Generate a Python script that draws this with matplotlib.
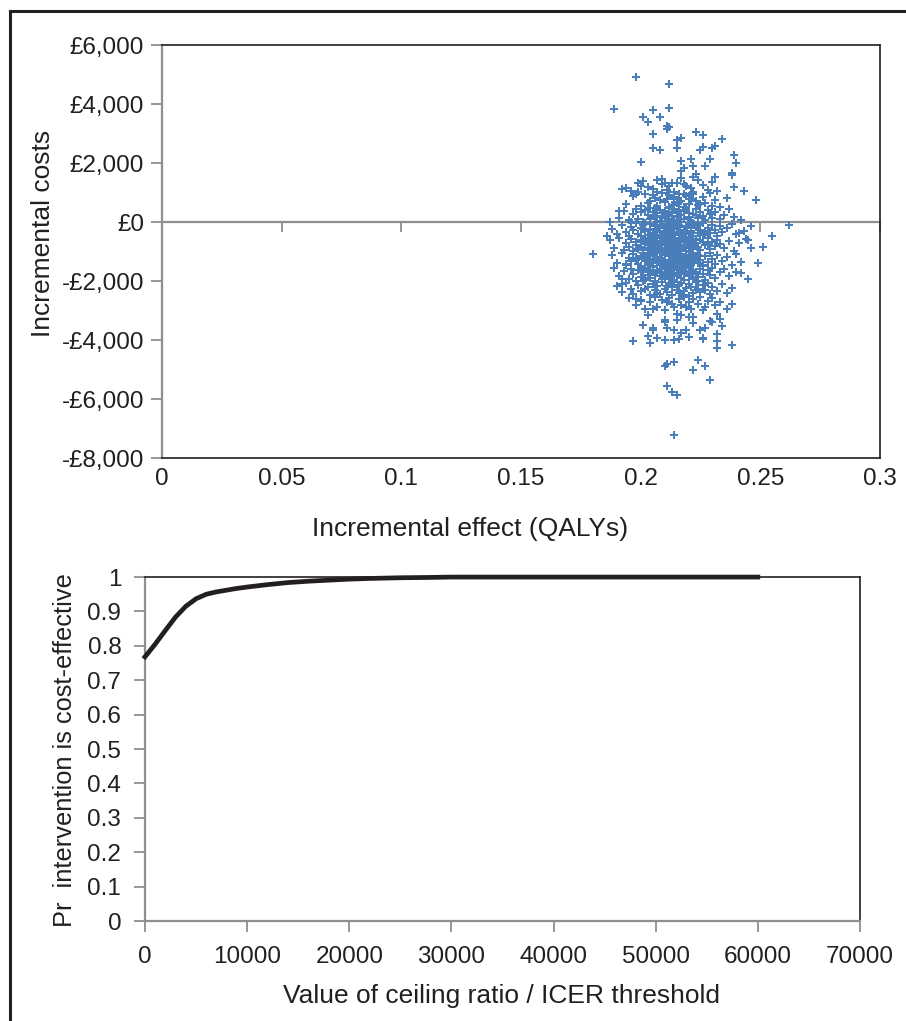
import numpy as np
import matplotlib.pyplot as plt
from matplotlib.lines import Line2D
from matplotlib.ticker import FuncFormatter

plt.rcParams['font.family'] = ['Liberation Sans', 'DejaVu Sans']

# --- cost-effectiveness plane: (incremental QALYs, incremental cost) ---
outliers = [
    (0.198, 4905), (0.212, 4680), (0.189, 3820), (0.205, 3800), (0.212, 3850), (0.201, 3550),
    (0.203, 3400), (0.208, 3570), (0.211, 3250), (0.212, 3210), (0.211, 3150), (0.205, 2980),
    (0.223, 3040), (0.226, 2950), (0.215, 2780), (0.217, 2840), (0.234, 2800), (0.205, 2500),
    (0.208, 2460), (0.215, 2500), (0.225, 2460), (0.226, 2550), (0.230, 2500), (0.231, 2580),
    (0.239, 2270), (0.240, 2020), (0.200, 2040), (0.217, 2070), (0.221, 2140), (0.229, 2140),
    (0.222, 1910), (0.227, 1900), (0.217, 1730), (0.218, 1820), (0.223, 1620), (0.222, 1520),
    (0.231, 1520), (0.238, 1650), (0.238, 1590), (0.207, 1420), (0.210, 1330), (0.213, 1310),
    (0.199, 1310), (0.200, 1220), (0.192, 1120), (0.194, 1150), (0.239, 1200), (0.243, 1050),
    (0.248, 750), (0.191, 380), (0.187, -10), (0.186, -475), (0.180, -1085), (0.262, -90),
    (0.255, -465), (0.246, -125), (0.251, -840), (0.246, -870), (0.245, -590), (0.241, -380),
    (0.249, -1400), (0.242, -1720), (0.245, -1930), (0.238, -2780), (0.236, -2950), (0.232, -3100),
    (0.233, -3290), (0.234, -3530), (0.232, -3800), (0.232, -4020), (0.232, -4250), (0.238, -4160),
    (0.229, -3345), (0.230, -3380), (0.227, -3570), (0.225, -3660), (0.226, -3970), (0.226, -3940),
    (0.220, -3890), (0.219, -3660), (0.217, -3770), (0.216, -3970), (0.214, -4000), (0.210, -3980),
    (0.207, -3940), (0.214, -3640), (0.211, -3570), (0.205, -3600), (0.205, -3660), (0.203, -3860),
    (0.204, -4110), (0.197, -4020), (0.201, -3490), (0.203, -3150), (0.205, -2950), (0.210, -3300),
    (0.210, -3380), (0.215, -3300), (0.215, -3100), (0.217, -3130), (0.220, -3210), (0.222, -3210),
    (0.222, -3400), (0.210, -4870), (0.211, -4790), (0.214, -4740), (0.224, -4680), (0.227, -4880),
    (0.222, -5020), (0.229, -5330), (0.211, -5550), (0.213, -5770), (0.215, -5840), (0.214, -7200),
    (0.200, -2680), (0.198, -2590), (0.192, -1910), (0.192, -2080), (0.194, -1420),
]

band_a = [
    (0.196, 1050), (0.201, 1380), (0.205, 1120), (0.209, 1460), (0.212, 1210), (0.214, 1030),
    (0.218, 1300), (0.221, 1150), (0.224, 1420), (0.228, 1090), (0.207, 1010), (0.215, 1340),
    (0.219, 1240), (0.203, 1180), (0.226, 1270), (0.211, 1100), (0.232, 1060), (0.199, 1020),
    (0.217, 1480), (0.222, 1010), (0.209, 1290), (0.230, 1360),
]

band_b = [
    (0.194, 620), (0.197, 880), (0.200, 540), (0.202, 940), (0.204, 710), (0.206, 830),
    (0.207, 560), (0.209, 990), (0.210, 680), (0.211, 770), (0.212, 910), (0.213, 590),
    (0.214, 850), (0.215, 640), (0.216, 960), (0.217, 720), (0.218, 530), (0.219, 880),
    (0.220, 610), (0.221, 790), (0.222, 940), (0.223, 700), (0.224, 570), (0.226, 860),
    (0.227, 650), (0.229, 980), (0.231, 740), (0.233, 520), (0.236, 810), (0.198, 960),
    (0.203, 660), (0.208, 750), (0.212, 520), (0.216, 690), (0.220, 870), (0.225, 600),
    (0.205, 920), (0.214, 780), (0.218, 950), (0.230, 560),
]

band_c = [
    (0.191, 150), (0.193, 380), (0.195, 60), (0.197, 270), (0.198, 460), (0.199, 120),
    (0.200, 330), (0.201, 20), (0.202, 410), (0.203, 240), (0.204, 90), (0.205, 360),
    (0.206, 180), (0.206, 470), (0.207, 300), (0.208, 50), (0.208, 420), (0.209, 210),
    (0.210, 140), (0.210, 390), (0.211, 30), (0.211, 270), (0.212, 480), (0.212, 110),
    (0.213, 350), (0.213, 200), (0.214, 440), (0.214, 70), (0.215, 310), (0.215, 160),
    (0.216, 410), (0.216, 10), (0.217, 250), (0.218, 370), (0.218, 90), (0.219, 460),
    (0.220, 190), (0.220, 320), (0.221, 40), (0.222, 280), (0.223, 430), (0.224, 130),
    (0.225, 360), (0.226, 220), (0.227, 70), (0.228, 410), (0.229, 260), (0.230, 150),
    (0.231, 330), (0.233, 90), (0.235, 240), (0.237, 450), (0.239, 180), (0.196, 20),
    (0.204, 480), (0.210, 350), (0.217, 120), (0.223, 230), (0.228, 400), (0.242, 60),
]

band_d = [
    (0.188, -220), (0.190, -410), (0.192, -90), (0.194, -330), (0.195, -470), (0.196, -150),
    (0.197, -280), (0.198, -40), (0.199, -390), (0.200, -190), (0.200, -460), (0.201, -110),
    (0.202, -300), (0.202, -20), (0.203, -420), (0.204, -240), (0.204, -70), (0.205, -360),
    (0.205, -490), (0.206, -130), (0.206, -270), (0.207, -10), (0.207, -440), (0.208, -200),
    (0.208, -340), (0.209, -80), (0.209, -480), (0.210, -160), (0.210, -310), (0.210, -430),
    (0.211, -50), (0.211, -250), (0.211, -380), (0.212, -120), (0.212, -290), (0.212, -460),
    (0.213, -30), (0.213, -210), (0.213, -350), (0.214, -170), (0.214, -400), (0.214, -60),
    (0.215, -320), (0.215, -230), (0.216, -90), (0.216, -450), (0.216, -180), (0.217, -370),
    (0.217, -10), (0.218, -260), (0.218, -490), (0.219, -140), (0.219, -330), (0.220, -70),
    (0.220, -410), (0.221, -200), (0.221, -290), (0.222, -40), (0.222, -470), (0.223, -150),
    (0.224, -360), (0.224, -100), (0.225, -250), (0.226, -430), (0.226, -20), (0.227, -310),
    (0.228, -190), (0.229, -380), (0.230, -80), (0.231, -270), (0.232, -460), (0.233, -130),
    (0.234, -350), (0.236, -210), (0.238, -60), (0.240, -400), (0.243, -290), (0.201, -240),
    (0.215, -150), (0.227, -440),
]

band_e = [
    (0.187, -620), (0.189, -880), (0.191, -540), (0.193, -940), (0.194, -710), (0.195, -830),
    (0.196, -560), (0.197, -990), (0.198, -680), (0.198, -770), (0.199, -910), (0.200, -590),
    (0.200, -850), (0.201, -640), (0.201, -960), (0.202, -720), (0.202, -530), (0.203, -880),
    (0.203, -610), (0.204, -790), (0.204, -940), (0.205, -700), (0.205, -570), (0.205, -860),
    (0.206, -650), (0.206, -980), (0.207, -740), (0.207, -520), (0.207, -810), (0.208, -960),
    (0.208, -660), (0.208, -750), (0.209, -520), (0.209, -690), (0.209, -870), (0.210, -600),
    (0.210, -920), (0.210, -780), (0.211, -950), (0.211, -560), (0.211, -700), (0.212, -840),
    (0.212, -630), (0.212, -990), (0.213, -510), (0.213, -760), (0.213, -900), (0.214, -680),
    (0.214, -580), (0.214, -820), (0.215, -970), (0.215, -640), (0.215, -730), (0.216, -540),
    (0.216, -890), (0.216, -800), (0.217, -670), (0.217, -930), (0.218, -590), (0.218, -760),
    (0.218, -850), (0.219, -610), (0.219, -980), (0.220, -700), (0.220, -530), (0.221, -870),
    (0.221, -640), (0.222, -790), (0.222, -920), (0.223, -560), (0.223, -720), (0.224, -830),
    (0.225, -610), (0.225, -950), (0.226, -680), (0.227, -770), (0.228, -540), (0.229, -900),
    (0.230, -660), (0.231, -810), (0.232, -590), (0.233, -740), (0.235, -860), (0.237, -630),
    (0.239, -970), (0.241, -700), (0.244, -580), (0.206, -820), (0.219, -650), (0.228, -740),
]

band_f = [
    (0.188, -1120), (0.190, -1380), (0.192, -1050), (0.194, -1460), (0.195, -1210), (0.196, -1330),
    (0.197, -1090), (0.198, -1270), (0.199, -1420), (0.200, -1160), (0.200, -1490), (0.201, -1030),
    (0.202, -1310), (0.202, -1200), (0.203, -1440), (0.203, -1080), (0.204, -1350), (0.204, -1240),
    (0.205, -1470), (0.205, -1130), (0.206, -1290), (0.206, -1010), (0.207, -1400), (0.207, -1180),
    (0.208, -1320), (0.208, -1060), (0.209, -1450), (0.209, -1230), (0.210, -1100), (0.210, -1370),
    (0.210, -1280), (0.211, -1020), (0.211, -1410), (0.212, -1150), (0.212, -1300), (0.212, -1480),
    (0.213, -1070), (0.213, -1260), (0.214, -1390), (0.214, -1140), (0.214, -1220), (0.215, -1040),
    (0.215, -1340), (0.216, -1190), (0.216, -1460), (0.217, -1090), (0.217, -1310), (0.218, -1250),
    (0.218, -1430), (0.219, -1120), (0.219, -1360), (0.220, -1010), (0.220, -1280), (0.221, -1170),
    (0.221, -1440), (0.222, -1060), (0.222, -1330), (0.223, -1210), (0.224, -1390), (0.224, -1100),
    (0.225, -1270), (0.226, -1480), (0.227, -1150), (0.228, -1350), (0.229, -1030), (0.230, -1240),
    (0.231, -1420), (0.232, -1110), (0.234, -1300), (0.236, -1190), (0.238, -1460), (0.240, -1080),
    (0.242, -1360), (0.198, -1230), (0.204, -1410), (0.209, -1050), (0.213, -1320), (0.217, -1180),
    (0.221, -1270), (0.226, -1440), (0.201, -1130), (0.207, -1010), (0.211, -1370), (0.215, -1250),
    (0.223, -1160),
]

band_g = [
    (0.189, -1560), (0.191, -1820), (0.193, -1650), (0.195, -1930), (0.196, -1580), (0.197, -1740),
    (0.198, -1990), (0.199, -1610), (0.200, -1850), (0.201, -1700), (0.202, -1540), (0.202, -1960),
    (0.203, -1780), (0.204, -1620), (0.204, -1890), (0.205, -1520), (0.206, -1730), (0.206, -1980),
    (0.207, -1640), (0.208, -1810), (0.208, -1570), (0.209, -1920), (0.209, -1690), (0.210, -1530),
    (0.210, -1860), (0.211, -1750), (0.211, -1600), (0.212, -1940), (0.212, -1670), (0.213, -1800),
    (0.213, -1550), (0.214, -1710), (0.214, -1970), (0.215, -1630), (0.215, -1840), (0.216, -1510),
    (0.216, -1760), (0.217, -1900), (0.217, -1590), (0.218, -1720), (0.218, -1950), (0.219, -1660),
    (0.220, -1830), (0.220, -1540), (0.221, -1770), (0.222, -1610), (0.222, -1910), (0.223, -1690),
    (0.224, -1850), (0.225, -1570), (0.226, -1740), (0.227, -1960), (0.228, -1620), (0.229, -1800),
    (0.230, -1550), (0.231, -1880), (0.233, -1680), (0.235, -1590), (0.237, -1820), (0.240, -1700),
    (0.205, -1680), (0.212, -1870), (0.219, -1520), (0.224, -1990), (0.200, -1560),
]

band_h = [
    (0.190, -2150), (0.192, -2380), (0.194, -2060), (0.196, -2270), (0.197, -2450), (0.199, -2120),
    (0.200, -2330), (0.201, -2010), (0.203, -2210), (0.204, -2480), (0.205, -2090), (0.206, -2310),
    (0.207, -2170), (0.208, -2420), (0.209, -2040), (0.210, -2260), (0.211, -2360), (0.212, -2110),
    (0.213, -2470), (0.213, -2200), (0.214, -2030), (0.215, -2290), (0.216, -2400), (0.216, -2140),
    (0.217, -2060), (0.218, -2340), (0.219, -2230), (0.220, -2490), (0.220, -2080), (0.221, -2180),
    (0.222, -2410), (0.223, -2020), (0.224, -2250), (0.225, -2370), (0.226, -2130), (0.227, -2300),
    (0.228, -2050), (0.229, -2440), (0.230, -2190), (0.232, -2320), (0.234, -2100), (0.236, -2400),
    (0.238, -2230), (0.207, -2390), (0.211, -2160), (0.218, -2470), (0.223, -2310), (0.202, -2250),
]

band_i = [
    (0.195, -2560), (0.198, -2790), (0.200, -2620), (0.202, -2940), (0.204, -2700), (0.206, -2530),
    (0.207, -2860), (0.209, -2650), (0.210, -2980), (0.212, -2580), (0.213, -2760), (0.214, -2890),
    (0.216, -2610), (0.217, -2820), (0.218, -2540), (0.220, -2700), (0.221, -2950), (0.222, -2600),
    (0.224, -2770), (0.225, -2520), (0.227, -2880), (0.228, -2660), (0.230, -2580), (0.231, -2810),
    (0.233, -2690), (0.211, -2700), (0.219, -2870), (0.226, -2990),
]

# --- acceptability curve ---
ceiling = [0, 1000, 2000, 3000, 4000, 5000, 6000, 7000, 8000, 9000, 10000, 12000, 14000,
           16000, 18000, 20000, 22000, 25000, 28000, 30000, 35000, 40000, 45000, 50000,
           55000, 60000]
prob_ce = [0.768, 0.805, 0.845, 0.884, 0.915, 0.937, 0.950, 0.957, 0.962, 0.967, 0.971,
           0.978, 0.984, 0.988, 0.991, 0.994, 0.996, 0.998, 0.999, 1.0, 1.0, 1.0, 1.0, 1.0,
           1.0, 1.0]

effect_ticks = [0, 0.05, 0.1, 0.15, 0.2, 0.25, 0.3]
effect_labels = ['0', '0.05', '0.1', '0.15', '0.2', '0.25', '0.3']
cost_ticks = [6000, 4000, 2000, 0, -2000, -4000, -6000, -8000]
ceiling_ticks = [0, 10000, 20000, 30000, 40000, 50000, 60000, 70000]
prob_ticks = [0, 0.1, 0.2, 0.3, 0.4, 0.5, 0.6, 0.7, 0.8, 0.9, 1.0]
prob_labels = ['0', '0.1', '0.2', '0.3', '0.4', '0.5', '0.6', '0.7', '0.8', '0.9', '1']

ink = '#231f20'
grey = '#8f8f8f'
blue = '#4a7ebb'
tick_fs = 17.5
label_fs = 19

pts = outliers + band_a + band_b + band_c + band_d + band_e + band_f + band_g + band_h + band_i
eff = np.array([p[0] for p in pts])
cst = np.array([p[1] for p in pts])

fig = plt.figure(figsize=(9.06, 10.21), dpi=100)

# top panel: CE plane
ax1 = fig.add_axes([0.1788, 0.5511, 0.7925, 0.4048])
ax1.scatter(eff, cst, marker='P', s=26, color=blue, linewidths=0, zorder=3)
ax1.set_xlim(0, 0.3)
ax1.set_ylim(-8000, 6000)
ax1.set_xticks(effect_ticks)
ax1.set_xticklabels(effect_labels)
ax1.set_yticks(cost_ticks)
ax1.yaxis.set_major_formatter(FuncFormatter(
    lambda v, p: ('-' if v < 0 else '') + '£{:,.0f}'.format(abs(v))))
ax1.tick_params(axis='x', length=0, pad=7, labelsize=tick_fs, labelcolor=ink)
ax1.tick_params(axis='y', direction='out', length=8, width=1.3, color=grey,
                pad=5, labelsize=tick_fs, labelcolor=ink)
for s in ['top', 'right', 'bottom']:
    ax1.spines[s].set_color(ink)
    ax1.spines[s].set_linewidth(1.2)
ax1.spines['left'].set_color(grey)
ax1.spines['left'].set_linewidth(1.6)

# horizontal axis crossing at zero cost
sec = ax1.secondary_xaxis(8000 / 14000)
sec.set_alignment('bottom')
sec.set_xticks(effect_ticks)
sec.tick_params(axis='x', direction='out', length=7, width=1.3, color=grey,
                labelbottom=False, labeltop=False)
for s in sec.spines.values():
    s.set_color(grey)
    s.set_linewidth(1.6)

# bottom panel: CEAC
ax2 = fig.add_axes([0.1600, 0.0979, 0.7892, 0.3369])
ax2.plot(ceiling, prob_ce, color=ink, lw=3.4, clip_on=False, zorder=3)
ax2.set_xlim(0, 70000)
ax2.set_ylim(0, 1)
ax2.set_xticks(ceiling_ticks)
ax2.set_yticks(prob_ticks)
ax2.set_yticklabels(prob_labels)
ax2.tick_params(axis='both', direction='out', length=8, width=1.3, color=grey,
                labelsize=tick_fs, labelcolor=ink)
ax2.tick_params(axis='x', pad=10)
ax2.tick_params(axis='y', pad=9)
for s in ['top', 'right']:
    ax2.spines[s].set_color(ink)
    ax2.spines[s].set_linewidth(1.2)
for s in ['left', 'bottom']:
    ax2.spines[s].set_color(grey)
    ax2.spines[s].set_linewidth(1.6)

# axis titles
fig.text(0.0475, 0.771, 'Incremental costs', rotation=90, ha='center', va='center',
         fontsize=label_fs, color=ink)
fig.text(0.519, 0.475, 'Incremental effect (QALYs)', ha='center', va='baseline',
         fontsize=label_fs, color=ink)
fig.text(0.0717, 0.2654, 'Pr  intervention is cost-effective', rotation=90, ha='center',
         va='center', fontsize=18.3, color=ink)
fig.text(0.554, 0.0176, 'Value of ceiling ratio / ICER threshold', ha='center',
         va='baseline', fontsize=label_fs, color=ink)

# outer frame (left and top only)
fig.add_artist(Line2D([10 / 906, 10 / 906], [0, 1 - 11 / 1021], color=ink, lw=2.2))
fig.add_artist(Line2D([10 / 906, 1], [1 - 11 / 1021, 1 - 11 / 1021], color=ink, lw=2.2))

fig.savefig('out.png', dpi=100)
